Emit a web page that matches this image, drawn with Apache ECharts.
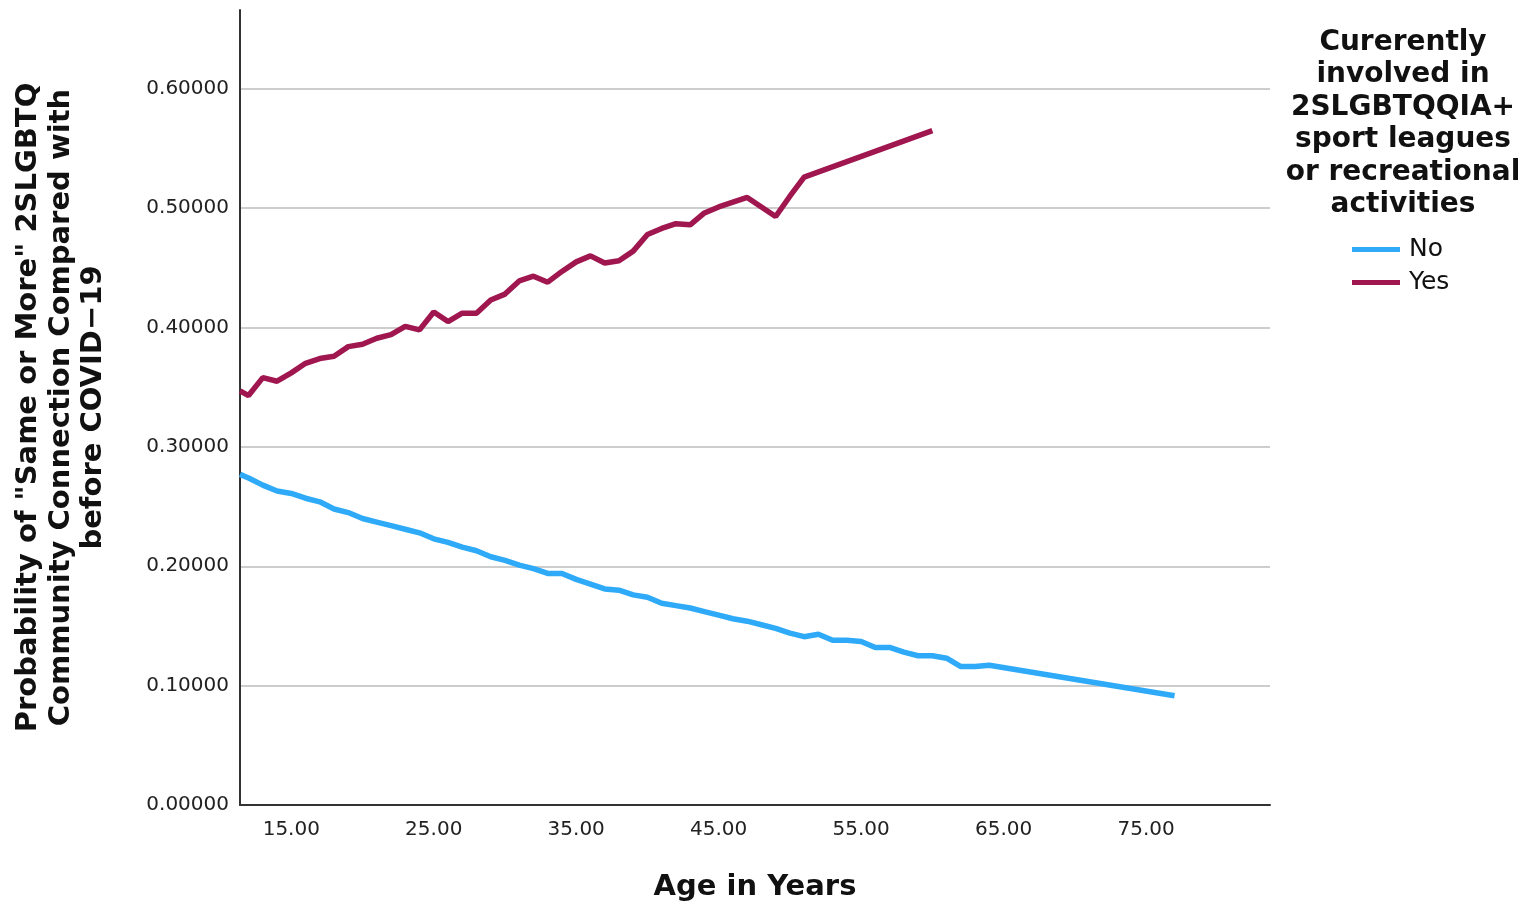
<!DOCTYPE html>
<html><head><meta charset="utf-8">
<script src="https://cdn.jsdelivr.net/npm/echarts@6/dist/echarts.min.js"></script>
<style>html,body{margin:0;padding:0;background:#fff}#c{width:1529px;height:907px}</style>
</head><body><div id="c"></div>
<script>
const xTickValues = [15, 25, 35, 45, 55, 65, 75];
const seriesNames = ['No', 'Yes'];
const legendTitle = 'Curerently\ninvolved in\n2SLGBTQQIA+\nsport leagues\nor recreational\nactivities';
const yTitle = 'Probability of "Same or More" 2SLGBTQ\nCommunity Connection Compared with\nbefore COVID\u221219';
const xTitle = 'Age in Years';

const noAges = [11.4,12,13,14,15,16,17,18,19,20,21,22,23,24,25,26,27,28,29,30,31,32,33,34,35,36,37,38,39,40,41,42,43,44,45,46,47,48,49,50,51,52,53,54,55,56,57,58,59,60,61,62,63,64,77];
const noValues = [0.277,0.274,0.268,0.263,0.261,0.257,0.254,0.248,0.245,0.240,0.237,0.234,0.231,0.228,0.223,0.220,0.216,0.213,0.208,0.205,0.201,0.198,0.194,0.194,0.189,0.185,0.181,0.180,0.176,0.174,0.169,0.167,0.165,0.162,0.159,0.156,0.154,0.151,0.148,0.144,0.141,0.143,0.138,0.138,0.137,0.132,0.132,0.128,0.125,0.125,0.123,0.116,0.116,0.117,0.0915];

const yesAges = [11.4,12,13,14,15,16,17,18,19,20,21,22,23,24,25,26,27,28,29,30,31,32,33,34,35,36,37,38,39,40,41,42,43,44,45,46,47,48,49,50,51,60];
const yesValues = [0.347,0.343,0.358,0.355,0.362,0.370,0.374,0.376,0.384,0.386,0.391,0.394,0.401,0.398,0.413,0.405,0.412,0.412,0.423,0.428,0.439,0.443,0.438,0.447,0.455,0.460,0.454,0.456,0.464,0.478,0.483,0.487,0.486,0.496,0.501,0.505,0.509,0.501,0.493,0.510,0.526,0.565];

const chart = echarts.init(document.getElementById('c'), null, {renderer: 'canvas'});
const pair = (xs, ys) => xs.map((x, i) => [x, ys[i]]);
const F = 'DejaVu Sans';

chart.setOption({
  animation: false,
  backgroundColor: '#fff',
  grid: {left: 240, right: 259, top: 10, bottom: 101, containLabel: false},
  xAxis: {
    type: 'value', min: 11.4, max: 83.7,
    axisLine: {show: true, lineStyle: {color: '#333', width: 2}},
    axisTick: {show: false},
    splitLine: {show: false},
    axisLabel: {customValues: xTickValues, formatter: v => v.toFixed(2), margin: 15, fontFamily: F, fontSize: 20, color: '#222'},
    name: xTitle, nameLocation: 'middle', nameGap: 68,
    nameTextStyle: {fontFamily: F, fontWeight: 'bold', fontSize: 29, color: '#111'}
  },
  yAxis: {
    type: 'value', min: 0, max: 0.666, interval: 0.1,
    axisLine: {show: true, lineStyle: {color: '#333', width: 2}},
    axisTick: {show: false},
    splitLine: {show: true, showMaxLine: false, lineStyle: {color: '#bdbdbd', width: 1.5}},
    axisLabel: {formatter: v => v.toFixed(5), showMaxLabel: false, margin: 11, fontFamily: F, fontSize: 20, color: '#222', padding: [4, 0, 0, 0]},
    name: yTitle, nameLocation: 'middle', nameGap: 130, nameRotate: 90,
    nameTextStyle: {fontFamily: F, fontWeight: 'bold', fontSize: 29, lineHeight: 32.5, color: '#111', align: 'center'}
  },
  legend: {
    data: seriesNames, orient: 'vertical', left: 1352, top: 237,
    icon: 'rect', itemWidth: 48, itemHeight: 5, itemGap: 8, padding: 0,
    textStyle: {fontFamily: F, fontSize: 25, color: '#111', padding: [0, 0, 0, 4]}
  },
  graphic: [{
    type: 'text', x: 1403, y: 26,
    style: {text: legendTitle, textAlign: 'center', font: 'bold 28px "DejaVu Sans"', lineHeight: 32.5, fill: '#111'}
  }],
  series: [
    {name: seriesNames[0], type: 'line', data: pair(noAges, noValues), showSymbol: false, symbol: 'none',
     lineStyle: {color: '#2eaaf8', width: 5.5}, itemStyle: {color: '#2eaaf8'}},
    {name: seriesNames[1], type: 'line', data: pair(yesAges, yesValues), showSymbol: false, symbol: 'none',
     lineStyle: {color: '#a0174f', width: 5.5}, itemStyle: {color: '#a0174f'}}
  ]
});
</script></body></html>
